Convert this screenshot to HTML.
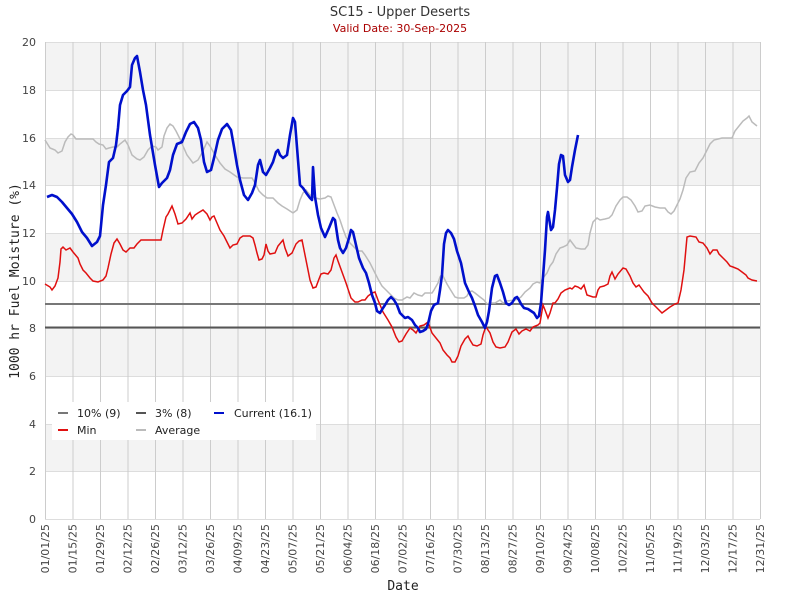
<!DOCTYPE html>
<html><head><meta charset="utf-8"><style>body{margin:0;background:#fff}svg{display:block}</style></head><body>
<svg width="800" height="600" xmlns="http://www.w3.org/2000/svg" font-family="DejaVu Sans, Liberation Sans, sans-serif">
<rect width="800" height="600" fill="#fff"/>
<g fill="#f3f3f3">
<rect x="45" y="42" width="715" height="48"/><rect x="45" y="138" width="715" height="47"/><rect x="45" y="233" width="715" height="48"/><rect x="45" y="328" width="715" height="48"/><rect x="45" y="424" width="715" height="47"/>
</g>
<g stroke="#dddddd" stroke-width="1">
<line x1="45" x2="760" y1="42.5" y2="42.5"/><line x1="45" x2="760" y1="90.5" y2="90.5"/><line x1="45" x2="760" y1="138.5" y2="138.5"/><line x1="45" x2="760" y1="185.5" y2="185.5"/><line x1="45" x2="760" y1="233.5" y2="233.5"/><line x1="45" x2="760" y1="281.5" y2="281.5"/><line x1="45" x2="760" y1="328.5" y2="328.5"/><line x1="45" x2="760" y1="376.5" y2="376.5"/><line x1="45" x2="760" y1="424.5" y2="424.5"/><line x1="45" x2="760" y1="471.5" y2="471.5"/><line x1="45" x2="760" y1="519.5" y2="519.5"/>
</g>
<g stroke="#cccccc" stroke-width="1" id="vg"></g>
<g font-size="11" fill="#444" text-anchor="end">
<text x="36" y="46">20</text><text x="36" y="94">18</text><text x="36" y="142">16</text><text x="36" y="189">14</text><text x="36" y="237">12</text><text x="36" y="285">10</text><text x="36" y="332">8</text><text x="36" y="380">6</text><text x="36" y="428">4</text><text x="36" y="475">2</text><text x="36" y="523">0</text>
</g>
<g id="xl" font-size="11" fill="#444"></g>
<line x1="45" x2="760" y1="304" y2="304" stroke="#777" stroke-width="2"/>
<line x1="45" x2="760" y1="327.5" y2="327.5" stroke="#555" stroke-width="2"/>
<polyline fill="none" stroke="#bbbbbb" stroke-width="1.5" points="45,140 50,148 55,150 58,153 62,151 65,142 68,137 71,134 73,135 76,139 93,139 96,142 99,144 103,145 106,149 109,148 113,147 117,147 120,144 125,140 128,145 132,155 137,159 140,160 144,157 148,150 152,146 156,147 158,150 162,147 164,136 167,128 170,124 173,126 176,131 180,139 183,146 187,155 193,163 198,160 202,153 207,142 210,146 215,155 220,163 225,169 230,172 237,177 243,178 252,178 255,183 259,191 263,195 267,198 273,198 278,203 282,206 287,209 290,211 293,213 297,210 300,200 303,193 306,190 310,195 315,198 320,199 325,198 328,196 331,197 334,205 337,213 340,220 343,229 346,237 350,243 354,247 358,251 362,251 365,255 370,263 374,271 378,279 382,286 386,290 390,294 394,298 398,300 402,300 407,297 410,298 414,293 418,295 422,296 425,293 428,293 432,293 434,290 438,283 440,277 442,274 444,278 447,284 450,289 455,297 458,298 464,298 467,296 469,292 472,291 475,293 480,297 484,300 487,304 490,303 495,303 500,300 503,303 507,301 515,300 518,299 521,297 525,292 530,288 533,284 537,282 540,283 543,278 547,273 550,266 553,262 556,254 560,248 563,247 567,245 570,240 573,244 576,248 581,249 585,249 588,245 590,233 593,222 597,218 600,220 605,219 609,218 612,215 616,206 620,200 623,197 627,197 631,200 635,206 638,212 642,211 645,206 650,205 655,207 660,208 665,208 668,212 671,214 674,211 677,205 680,199 683,190 686,178 690,172 695,171 699,163 703,158 706,152 710,144 714,140 722,138 732,138 735,131 739,126 743,121 747,118 749,116 752,122 757,126"/>
<polyline fill="none" stroke="#e01010" stroke-width="1.5" points="45,284 50,287 52,290 55,286 58,278 60,262 61,249 63,247 66,250 70,248 73,252 78,258 80,264 83,270 86,273 90,278 93,281 98,282 103,280 106,276 108,268 111,254 114,243 117,239 120,244 123,250 126,252 130,248 134,248 137,244 141,240 161,240 163,230 166,217 168,214 170,210 172,206 175,214 178,224 182,223 186,219 190,213 192,219 195,215 198,213 203,210 207,214 210,220 212,217 214,216 217,223 220,230 224,236 228,244 230,248 233,245 237,244 240,238 243,236 250,236 253,238 255,245 257,253 259,260 262,259 264,255 266,244 268,251 270,254 275,253 278,246 283,240 285,248 288,256 292,253 296,244 299,241 302,240 304,250 307,265 310,280 313,288 316,287 319,279 321,274 324,273 328,274 331,270 334,258 336,255 338,261 342,272 346,283 349,292 351,298 355,302 358,302 362,300 365,300 368,296 372,293 375,292 378,300 383,312 388,320 392,327 396,337 399,342 402,341 406,334 410,328 413,330 416,333 420,326 424,325 428,322 432,333 436,338 440,343 443,350 447,355 450,358 452,362 455,362 458,356 461,346 465,339 468,336 470,340 473,345 477,346 481,344 483,335 485,329 486,327 490,333 493,342 496,347 500,348 505,347 508,342 512,332 516,329 519,334 522,331 526,329 530,331 533,327 538,325 540,323 543,305 545,310 548,318 550,313 553,303 555,303 558,299 561,293 565,290 570,288 572,289 575,286 578,287 581,289 584,285 587,295 593,297 596,297 598,290 600,287 604,286 608,284 610,276 612,272 615,279 618,274 623,268 626,269 630,276 633,283 636,287 639,285 644,292 648,296 652,303 656,307 659,310 662,313 666,310 670,307 675,304 678,303 681,290 684,270 687,237 690,236 696,237 699,242 703,243 707,248 710,254 713,250 717,250 719,254 723,258 727,262 730,266 733,267 738,269 742,272 746,275 748,278 752,280 757,281"/>
<polyline fill="none" stroke="#0010cc" stroke-width="2.6" stroke-linejoin="round" points="47,197 52,195 57,197 62,202 67,208 72,214 77,222 82,232 87,238 92,246 97,242 100,236 103,205 106,185 109,162 113,158 116,145 118,128 120,105 123,95 127,91 130,87 132,65 135,58 137,56 140,72 143,90 146,105 150,135 155,165 159,187 162,183 167,178 170,170 173,155 177,144 182,142 186,132 190,124 194,122 198,128 201,140 204,162 207,172 211,170 214,158 218,140 222,129 227,124 231,130 234,147 237,165 240,180 244,195 248,200 252,193 255,185 258,165 260,160 263,172 266,175 270,168 273,162 276,152 278,150 280,155 283,158 287,155 290,135 293,118 295,122 298,160 300,185 303,188 307,194 310,198 312,200 313,167 315,197 318,215 321,228 325,237 329,228 333,218 335,220 338,240 340,248 343,253 346,248 349,238 351,230 353,232 356,245 359,258 363,268 366,273 369,283 372,295 375,303 377,311 380,313 383,308 385,305 388,300 391,297 394,300 397,305 400,313 405,318 408,317 412,320 415,325 418,328 420,332 423,331 426,329 428,324 431,311 434,305 438,303 440,290 442,275 444,244 446,233 448,230 451,233 454,239 457,251 461,263 465,283 469,292 472,298 475,306 478,315 482,322 485,328 487,322 489,311 492,288 495,276 497,275 500,283 503,292 506,303 509,305 512,303 515,298 517,297 519,300 521,304 524,308 528,309 531,311 534,313 537,318 539,316 541,303 543,277 545,250 547,217 548,212 551,230 553,227 555,210 557,188 559,164 561,155 563,156 565,175 568,182 570,180 572,167 575,150 578,135"/>
<rect x="52" y="402" width="264" height="38" fill="#fff"/>
<g font-size="11" fill="#222">
<line x1="58" x2="68" y1="413" y2="413" stroke="#777" stroke-width="2"/><text x="77" y="417">10% (9)</text>
<line x1="136" x2="146" y1="413" y2="413" stroke="#555" stroke-width="2"/><text x="155" y="417">3% (8)</text>
<line x1="214" x2="224" y1="413" y2="413" stroke="#0010cc" stroke-width="2"/><text x="234" y="417">Current (16.1)</text>
<line x1="58" x2="68" y1="430" y2="430" stroke="#e01010" stroke-width="2"/><text x="77" y="434">Min</text>
<line x1="136" x2="146" y1="430" y2="430" stroke="#bbb" stroke-width="2"/><text x="155" y="434">Average</text>
</g>
<text x="400" y="16" text-anchor="middle" font-size="13" fill="#333">SC15 - Upper Deserts</text>
<text x="400" y="32" text-anchor="middle" font-size="11" fill="#aa0000">Valid Date: 30-Sep-2025</text>
<text transform="translate(19,281) rotate(-90)" text-anchor="middle" font-size="13" font-family="DejaVu Sans Mono, Liberation Mono, monospace" fill="#222">1000 hr Fuel Moisture (%)</text>
<text x="403" y="590" text-anchor="middle" font-size="13" font-family="DejaVu Sans Mono, Liberation Mono, monospace" fill="#222">Date</text>
<script>
var d=["01/01","01/15","01/29","02/12","02/26","03/12","03/26","04/09","04/23","05/07","05/21","06/04","06/18","07/02","07/16","07/30","08/13","08/27","09/10","09/24","10/08","10/22","11/05","11/19","12/03","12/17","12/31"];
var vg=document.getElementById('vg'),xl=document.getElementById('xl'),ns="http://www.w3.org/2000/svg";
d.forEach(function(s,i){var x=45+i*27.5;var l=document.createElementNS(ns,'line');l.setAttribute('x1',x+0.5);l.setAttribute('x2',x+0.5);l.setAttribute('y1',42);l.setAttribute('y2',519);vg.appendChild(l);
var t=document.createElementNS(ns,'text');t.setAttribute('transform','translate('+(x+4)+',524) rotate(-90)');t.setAttribute('text-anchor','end');t.textContent=s+'/25';xl.appendChild(t);});
</script>
</svg>
</body></html>
